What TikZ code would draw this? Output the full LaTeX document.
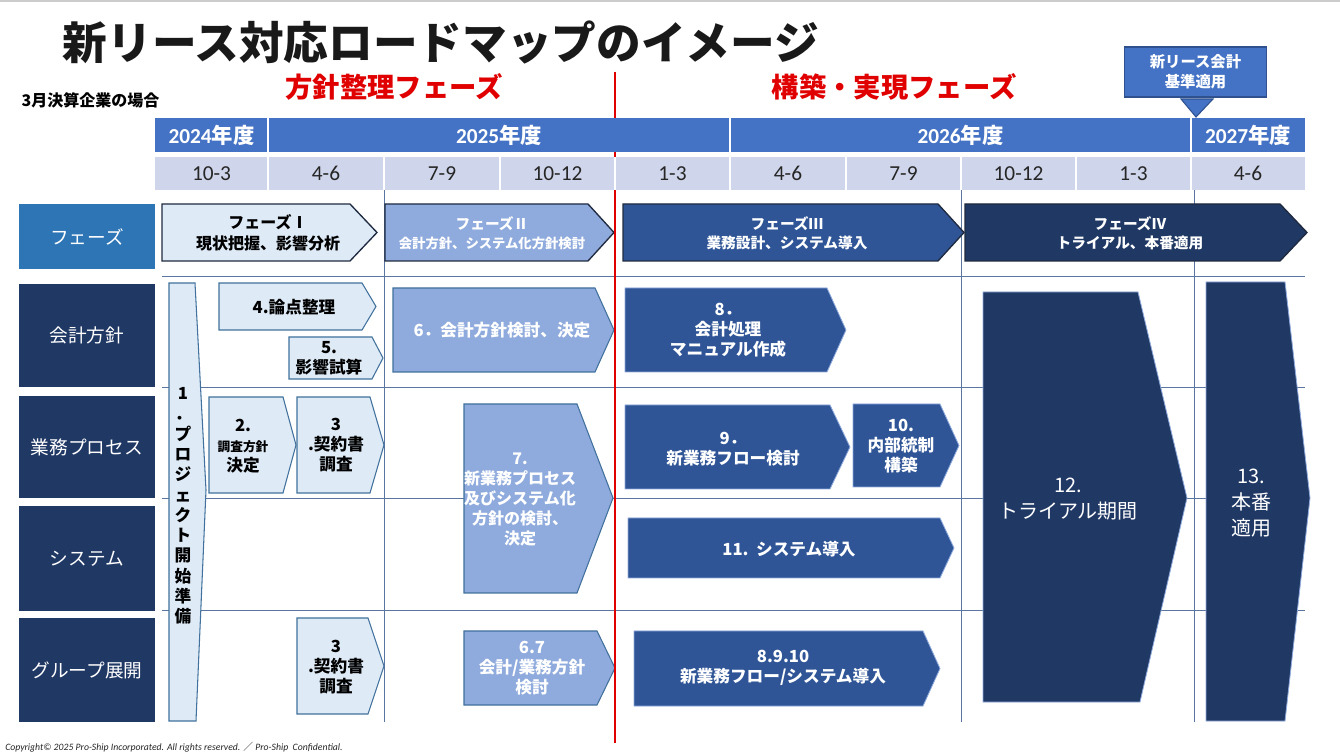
\documentclass[tikz,border=0pt]{standalone}
\usepackage{fontspec}
\setmainfont{Noto Sans CJK JP}
\newfontfamily\latinfont{Carlito}
\usepackage{tikz}
\usetikzlibrary{positioning,calc}
\definecolor{YearBlue}{HTML}{4472C4}
\definecolor{QuarterGray}{HTML}{CFD5EA}
\definecolor{PhaseBlue}{HTML}{2E75B6}
\definecolor{NavyRow}{HTML}{203864}
\definecolor{LightTask}{HTML}{DEEBF7}
\definecolor{MidTask}{HTML}{8FAADC}
\definecolor{DarkTask}{HTML}{2F5597}
\definecolor{GridLine}{HTML}{5A76A0}
\definecolor{RoadRed}{HTML}{E00000}
\definecolor{OutlineDark}{HTML}{1F2A40}
\definecolor{OutlineBlue}{HTML}{41719C}
\definecolor{CalloutEdge}{HTML}{2F528F}

% style, left, top, body end, tip, bottom
\newcommand{\chevron}[6]{%
  \draw[#1] (#2,#3) -- (#4,#3) -- (#5,{(#3+#6)/2}) -- (#4,#6) -- (#2,#6) -- cycle;}

\begin{document}
\begin{tikzpicture}[x=0.75pt,y=-0.75pt,
  yeartext/.style={text=white,font=\fontsize{16}{18}\selectfont\bfseries},
  qtext/.style={text=black!85,font=\latinfont\fontsize{16}{18}\selectfont},
  rowtext/.style={text=white,font=\fontsize{14}{16}\selectfont},
  phasetext/.style={align=center,font=\fontsize{11}{14.5}\selectfont\bfseries},
  tasktext/.style={align=center,font=\fontsize{12.5}{15}\selectfont\bfseries},
  bigtext/.style={align=center,text=white,font=\fontsize{15}{19.5}\selectfont},
  redhead/.style={text=RoadRed,font=\fontsize{20.5}{24}\selectfont\bfseries},
  lighttask/.style={fill=LightTask,draw=OutlineBlue,line width=0.8pt},
  midtask/.style={fill=MidTask,draw=OutlineBlue,line width=0.8pt},
  darktask/.style={fill=DarkTask,draw=MidTask,line width=0.6pt},
  navytask/.style={fill=NavyRow,draw=MidTask,line width=0.6pt},
  phasearrow/.style={draw=OutlineDark,line width=1pt},
  gridline/.style={GridLine,line width=0.7pt}
]
  \useasboundingbox (0,0) rectangle (1340,755);
  \fill[white] (0,0) rectangle (1340,755);
  \draw[black!20,line width=1.2pt] (0,1) -- (1340,1);

  % headings
  \node[anchor=west,font=\fontsize{33.5}{38}\selectfont\bfseries,text=black!90] (title) at (58,42) {新リース対応ロードマップのイメージ};
  \node[anchor=west,font=\fontsize{12}{14}\selectfont\bfseries] (case) at (17,100) {3月決算企業の場合};
  \node[redhead] (head1) at (394,87) {方針整理フェーズ};
  \node[redhead] (head2) at (894,87) {構築・実現フェーズ};

  % callout
  \node[fill=YearBlue,draw=CalloutEdge,line width=0.8pt,minimum width=107pt,minimum height=37.5pt,
        align=center,text=white,font=\fontsize{11.5}{15}\selectfont\bfseries] (apply) at (1195.5,72) {新リース会計\\基準適用};
  \draw[fill=YearBlue,draw=CalloutEdge,line width=0.8pt] (1181,99) -- (1213,99) -- (1196,117) -- cycle;

  % grid
  \foreach \yy in {276,387,498,610}
    \draw[gridline] (162,\yy) -- (1305,\yy);
  \foreach \xx in {384,961,1194}
    \draw[gridline] (\xx,190) -- (\xx,722);

  % row labels
  \fill[PhaseBlue] (19,204) rectangle (155,269);
  \node[rowtext] (row-phase) at (87,236.5) {フェーズ};
  \foreach \ya/\yb/\lbl/\nm in {284/387/会計方針/acc,396/498/業務プロセス/biz,506/611/システム/sys,618/722/グループ展開/grp}{
    \fill[NavyRow] (19,\ya) rectangle (155,\yb);
    \node[rowtext] (row-\nm) at (87,{(\ya+\yb)/2}) {\lbl};
  }

  % phases
  \chevron{phasearrow,fill=LightTask}{162}{204}{350}{377}{261}
  \node[phasetext,font=\fontsize{12}{15.5}\selectfont\bfseries] (ph1) at (268,233) {フェーズⅠ\\現状把握、影響分析};
  \chevron{phasearrow,fill=MidTask}{385}{204}{588}{614}{261}
  \node[phasetext,text=white] (ph2) at (492,233) {フェーズⅡ\\{\fontsize{10}{13}\selectfont 会計方針、システム化方針検討}};
  \chevron{phasearrow,fill=DarkTask}{623}{204}{938}{964}{261}
  \node[phasetext,text=white] (ph3) at (787,233) {フェーズⅢ\\業務設計、システム導入};
  \chevron{phasearrow,fill=NavyRow}{965}{204}{1280}{1307}{261}
  \node[phasetext,text=white] (ph4) at (1130,233) {フェーズⅣ\\トライアル、本番適用};

  % policy-setting tasks
  \draw[lighttask] (169,283) -- (195,283) -- (206,490) -- (196,721) -- (169,721) -- cycle;
  \node[tasktext,font=\fontsize{12.5}{15.2}\selectfont\bfseries] (t1) at (183,506) {1\\．\\プ\\ロ\\ジ\\ェ\\ク\\ト\\開\\始\\準\\備};
  \chevron{lighttask}{219}{283}{362}{376}{330}
  \node[tasktext] (t4) at (294,307) {4.論点整理};
  \chevron{lighttask}{289}{337}{372}{383}{379}
  \node[tasktext] (t5) at (329,358) {5.\\影響試算};
  \chevron{lighttask}{209}{397}{283}{296}{493}
  \node[tasktext] (t2) at (243,446) {2.\\{\fontsize{9.5}{13}\selectfont 調査方針}\\決定};
  \chevron{lighttask}{297}{397}{370}{384}{493}
  \node[tasktext] (t3a) at (336,445) {3\\.契約書\\調査};
  \chevron{lighttask}{297}{618}{368}{384}{714}
  \node[tasktext] (t3b) at (336,667) {3\\.契約書\\調査};
  \chevron{midtask}{393}{288}{595}{614}{372}
  \node[tasktext,text=white] (t6) at (502,330) {6．会計方針検討、決定};
  \draw[midtask] (464,404) -- (577,404) -- (613,498) -- (577,593) -- (464,593) -- cycle;
  \node[tasktext,text=white,font=\fontsize{12}{15}\selectfont\bfseries] (t7) at (520,500) {7.\\新業務プロセス\\及びシステム化\\方針の検討、\\決定};
  \chevron{midtask}{464}{631}{597}{615}{705}
  \node[tasktext,text=white] (t67) at (532,668) {6.7\\会計/業務方針\\検討};

  % build tasks
  \chevron{darktask}{625}{288}{827}{846}{372}
  \node[tasktext,text=white] (t8) at (728,330) {8．\\会計処理\\マニュアル作成};
  \chevron{darktask}{625}{405}{830}{850}{489}
  \node[tasktext,text=white] (t9) at (733,449) {9．\\新業務フロー検討};
  \chevron{darktask}{853}{404}{940}{959}{487}
  \node[tasktext,text=white] (t10) at (901,446) {10.\\内部統制\\構築};
  \chevron{darktask}{628}{518}{940}{954}{578}
  \node[tasktext,text=white] (t11) at (789,549) {11.\ \ システム導入};
  \chevron{darktask}{634}{631}{923}{940}{706}
  \node[tasktext,text=white] (t8910) at (783,668) {8.9.10\\新業務フロー/システム導入};

  % trial and go-live
  \draw[navytask] (983,292) -- (1138,292) -- (1187,498) -- (1140,702) -- (983,702) -- cycle;
  \node[bigtext] (t12) at (1068,499) {12.\\トライアル期間};
  \draw[navytask] (1206,282) -- (1285,282) -- (1310,498) -- (1285,721) -- (1206,721) -- cycle;
  \node[bigtext] (t13) at (1251,503) {13.\\本番\\適用};

  % red divider
  \coordinate (redtop) at (615,72);
  \coordinate (redbot) at (615,743);
  \draw[RoadRed,line width=0.8pt] (redtop) -- (redbot);

  % year and quarter header
  \fill[YearBlue] (155,118) rectangle (1305,152);
  \fill[QuarterGray] (155,157) rectangle (1305,190);
  \foreach \xs in {268,730,1191}
    \draw[white,line width=1.2pt] (\xs,118) -- (\xs,152);
  \foreach \xs in {268,384,500,615,730,846,961,1076,1191}
    \draw[white,line width=1.2pt] (\xs,157) -- (\xs,190);
  \node[yeartext] (y2024) at (211.5,135) {{\latinfont 2024}年度};
  \node[yeartext] (y2025) at (499,135) {{\latinfont 2025}年度};
  \node[yeartext] (y2026) at (960.5,135) {{\latinfont 2026}年度};
  \node[yeartext] (y2027) at (1248,135) {{\latinfont 2027}年度};
  \foreach \xa/\xb/\q [count=\i] in {155/268/10-3,268/384/4-6,384/500/7-9,500/615/10-12,615/730/1-3,730/846/4-6,846/961/7-9,961/1076/10-12,1076/1191/1-3,1191/1305/4-6}
    \node[qtext] (q\i) at ({(\xa+\xb)/2},173.5) {\q};

  \node[anchor=west,inner sep=0pt,text=black!85,font=\latinfont\itshape\fontsize{7.3}{9}\selectfont] (copy) at (5,747)
    {Copyright© 2025 Pro-Ship Incorporated. All rights reserved. {\normalfont\fontsize{7.3}{9}\selectfont ／} Pro-Ship\ \ Confidential.};
\end{tikzpicture}
\end{document}
